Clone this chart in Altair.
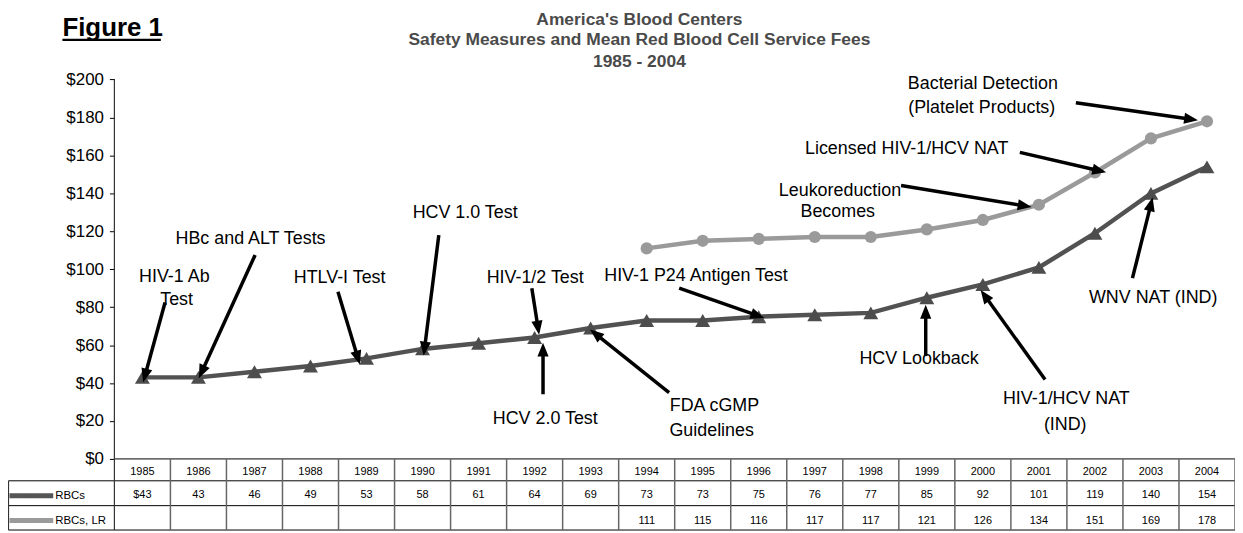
import math
import altair as alt
import pandas as pd

# ---------------- data ----------------
years = list(range(1985, 2005))
rbcs = [43, 43, 46, 49, 53, 58, 61, 64, 69, 73, 73, 75, 76, 77, 85, 92, 101, 119, 140, 154]
rbcs_lr = [None] * 9 + [111, 115, 116, 117, 117, 121, 126, 134, 151, 169, 178]
rbcs_labels = ["$43"] + [str(v) for v in rbcs[1:]]
lr_labels = ["" if v is None else str(v) for v in rbcs_lr]
series_names = ["RBCs", "RBCs, LR"]
y_ticks = list(range(0, 201, 20))

title_lines = ["America's Blood Centers",
               "Safety Measures and Mean Red Blood Cell Service Fees",
               "1985 - 2004"]
figure_label = "Figure 1"

# annotation text lines (position in year / dollar units)
ann_text = ["HIV-1 Ab", "Test", "HBc and ALT Tests", "HTLV-I Test", "HCV 1.0 Test",
            "HIV-1/2 Test", "HCV 2.0 Test", "FDA cGMP", "Guidelines",
            "HIV-1 P24 Antigen Test", "HCV Lookback", "HIV-1/HCV NAT", "(IND)",
            "WNV NAT (IND)", "Bacterial Detection", "(Platelet Products)",
            "Licensed HIV-1/HCV NAT", "Leukoreduction", "Becomes"]
ann_x = [1985.57, 1985.61, 1986.93, 1988.52, 1990.76, 1992.01, 1992.19, 1995.21, 1995.16,
         1994.88, 1998.86, 2001.49, 2001.47, 2003.04, 2000.00, 1999.98, 1998.64, 1997.45, 1997.41]
ann_y = [96.1, 83.7, 115.9, 95.4, 129.5, 95.4, 21.1, 27.9, 14.7,
         96.3, 52.8, 31.6, 17.9, 84.7, 197.5, 185.2, 163.4, 141.5, 130.4]

# arrows: start -> tip
arrow_from_x = [1985.404, 1987.012, 1988.49, 1990.29, 1991.95, 1992.15, 1994.40, 1994.58,
                1998.98, 2001.11, 2002.67, 2001.66, 2000.66, 1998.54]
arrow_from_y = [82.5, 107.5, 88.2, 118.0, 90.0, 34.1, 35.0, 90.0, 54.2, 41.9, 95.3, 187.8, 161.6, 144.2]
arrow_to_x = [1985.014, 1986.007, 1988.88, 1990.02, 1992.08, 1992.15, 1992.99, 1996.10,
              1998.98, 1999.96, 2003.03, 2003.84, 2002.20, 2000.87]
arrow_to_y = [40.4, 42.5, 49.8, 54.5, 65.5, 61.3, 68.2, 74.3, 81.3, 89.1, 137.9, 178.6, 151.1, 132.8]

# ---------------- layout ----------------
FONT = "Liberation Sans, Arial, sans-serif"
W, H = 1127, 524
PAD_LEFT = 107
X0, X1 = 1984.5, 2004.5
PXY = W / (X1 - X0)          # px per year
ZERO_PX = 452                # $0 line, px from plot top
PPD = 1.9075                 # px per dollar
Y_MAX = ZERO_PX / PPD
Y_MIN = -(H - ZERO_PX) / PPD
PAGE_X0 = 8 + PAD_LEFT       # page x of plot left
PAGE_Y0 = 8                  # page y of plot top


def xv(px):  # page px -> year units
    return X0 + (px - PAGE_X0) / PXY


def yv(py):  # page py -> dollar units
    return (PAGE_Y0 + ZERO_PX - py) / PPD


xs = alt.Scale(domain=[X0, X1], nice=False, zero=False)
ys = alt.Scale(domain=[Y_MIN, Y_MAX], nice=False, zero=False)


def X(f):
    return alt.X(f, type="quantitative", scale=xs, axis=None)


def Y(f):
    return alt.Y(f, type="quantitative", scale=ys, axis=None)


# ---- data series ----
df_rbc = pd.DataFrame({"year": years, "value": rbcs})
df_lr = pd.DataFrame({"year": years, "value": rbcs_lr}).dropna()

rbc_line = alt.Chart(df_rbc).mark_line(color="#525252", strokeWidth=4.5).encode(
    x=X("year"),
    y=alt.Y("value", type="quantitative", scale=ys,
            axis=alt.Axis(orient="left", values=y_ticks, format="$.0f", domain=False, grid=False,
                          ticks=True, tickSize=5, tickColor="black", tickWidth=1,
                          labelFont=FONT, labelFontSize=17, labelColor="black",
                          labelPadding=6, labelOverlap=False, title=None)))
rbc_pts = alt.Chart(df_rbc).mark_point(shape="triangle-up", filled=True, size=225,
                                       color="#4d4d4d", opacity=1).encode(x=X("year"), y=Y("value"))
lr_line = alt.Chart(df_lr).mark_line(color="#9a9a9a", strokeWidth=4.5).encode(x=X("year"), y=Y("value"))
lr_pts = alt.Chart(df_lr).mark_point(shape="circle", filled=True, size=150,
                                     color="#9a9a9a", opacity=1).encode(x=X("year"), y=Y("value"))

# ---- axis line and table grid ----
T_TOP, T_R1, T_R2, T_BOT = 460, 482, 507, 531.5
LBL_LEFT = 8.5
hlines = pd.DataFrame({
    "x": [X0, xv(LBL_LEFT), xv(LBL_LEFT), xv(LBL_LEFT)],
    "x2": [X1, X1, X1, X1],
    "y": [0, yv(T_R1), yv(T_R2), yv(T_BOT)],
})
hl = alt.Chart(hlines).mark_rule(color="black", strokeWidth=1).encode(
    x=X("x"), x2=alt.X2("x2"), y=Y("y"))

vx = [X0 + i for i in range(1, 21)]
vlines = pd.DataFrame({"x": vx, "y": [0] * len(vx), "y2": [yv(T_BOT)] * len(vx)})
vl = alt.Chart(vlines).mark_rule(color="#666666", strokeWidth=1.5).encode(
    x=X("x"), y=Y("y"), y2=alt.Y2("y2"))

axis_line = pd.DataFrame({"x": [X0, xv(LBL_LEFT)], "y": [200, yv(T_R1)], "y2": [yv(T_BOT), yv(T_BOT)]})
al = alt.Chart(axis_line).mark_rule(color="#333333", strokeWidth=1.2).encode(
    x=X("x"), y=Y("y"), y2=alt.Y2("y2"))

# ---- table texts ----
tbl = pd.DataFrame({
    "year": years * 3,
    "label": [str(y) for y in years] + rbcs_labels + lr_labels,
    "y": [yv(472.8)] * 20 + [yv(496.7)] * 20 + [yv(522.0)] * 20,
})
tbl_txt = alt.Chart(tbl).mark_text(font=FONT, fontSize=11, color="black",
                                   align="center", baseline="middle").encode(
    x=X("year"), y=Y("y"), text="label:N")

# row labels with legend keys
rows = pd.DataFrame({
    "name": series_names,
    "x": [xv(55.5)] * 2,
    "y": [yv(497.0), yv(522.0)],
    "kx": [xv(9.5)] * 2,
    "kx2": [xv(53.5)] * 2,
    "mx": [xv(31)] * 2,
    "color": ["#555555", "#9a9a9a"],
    "shape": ["triangle-up", "circle"],
})
row_txt = alt.Chart(rows).mark_text(font=FONT, fontSize=11.5, color="black",
                                    align="left", baseline="middle").encode(
    x=X("x"), y=Y("y"), text="name:N")
row_key = alt.Chart(rows).mark_rule(strokeWidth=5).encode(
    x=X("kx"), x2=alt.X2("kx2"), y=Y("y"),
    color=alt.Color("color:N", scale=None))
row_mk = alt.Chart(rows).mark_point(filled=True, size=25, opacity=1).encode(
    x=X("mx"), y=Y("y"), color=alt.Color("color:N", scale=None),
    shape=alt.Shape("shape:N", scale=None))

# ---- annotations ----
ann = pd.DataFrame({"t": ann_text, "x": ann_x, "y": ann_y})
ann_txt = alt.Chart(ann).mark_text(font=FONT, fontSize=18, color="black",
                                   align="center", baseline="middle").encode(
    x=X("x"), y=Y("y"), text="t:N")

HEAD_R = 7.0
sx, sy, ex, ey, ang = [], [], [], [], []
for x1, y1, x2, y2 in zip(arrow_from_x, arrow_from_y, arrow_to_x, arrow_to_y):
    dxp = (x2 - x1) * PXY
    dyp = -(y2 - y1) * PPD
    ln = math.hypot(dxp, dyp)
    ux, uy = dxp / ln, dyp / ln
    cx = x2 - HEAD_R * ux / PXY
    cy = y2 + HEAD_R * uy / PPD
    sx.append(x1); sy.append(y1); ex.append(cx); ey.append(cy)
    ang.append(math.degrees(math.atan2(dxp, -dyp)) % 360)
arr = pd.DataFrame({"sx": sx, "sy": sy, "ex": ex, "ey": ey, "ang": ang})
shafts = alt.Chart(arr).mark_rule(color="black", strokeWidth=3.5).encode(
    x=X("sx"), y=Y("sy"), x2=alt.X2("ex"), y2=alt.Y2("ey"))
heads = alt.Chart(arr).mark_point(shape="M0,-1L0.8,1L-0.8,1Z", filled=True, size=(2 * HEAD_R) ** 2,
                                  color="black", opacity=1).encode(
    x=X("ex"), y=Y("ey"), angle=alt.Angle("ang:Q", scale=None))

# ---- titles ----
ttl = pd.DataFrame({"t": title_lines, "x": [xv(643)] * 3, "y": [yv(18.5), yv(38.5), yv(61.0)]})
ttl_txt = alt.Chart(ttl).mark_text(font=FONT, fontSize=17.5, fontWeight="bold", color="#4a4a4a",
                                   align="center", baseline="middle").encode(
    x=X("x"), y=Y("y"), text="t:N")

fig = pd.DataFrame({"t": [figure_label], "x": [xv(62.7)], "y": [yv(34.3)],
                    "ux": [xv(62.7)], "ux2": [xv(161.7)], "uy": [yv(38.6)]})
fig_txt = alt.Chart(fig).mark_text(font=FONT, fontSize=26, fontWeight="bold", color="black",
                                   align="left", baseline="alphabetic").encode(
    x=X("x"), y=Y("y"), text="t:N")
fig_ul = alt.Chart(fig).mark_rule(color="black", strokeWidth=2.2).encode(
    x=X("ux"), x2=alt.X2("ux2"), y=Y("uy"))

chart = alt.layer(
    rbc_line, hl, vl, al, tbl_txt, row_key, row_mk, row_txt,
    lr_line, rbc_pts, lr_pts, shafts, heads, ann_txt, ttl_txt, fig_txt, fig_ul,
).resolve_axis(y="independent").properties(
    width=W, height=H,
    autosize=alt.AutoSizeParams(type="none"),
    padding={"left": PAD_LEFT, "top": 0, "right": 0, "bottom": 0},
    background="white",
).configure_view(stroke=None)

chart.save("out.html", embed_options={"renderer": "svg", "actions": False})
